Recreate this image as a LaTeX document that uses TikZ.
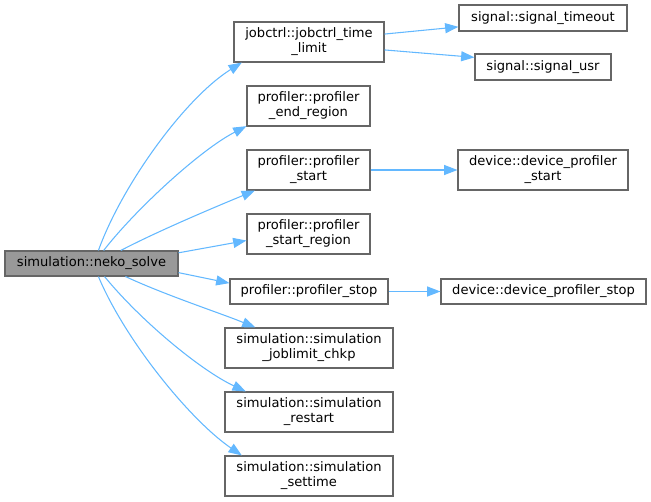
\documentclass[tikz,border=0pt]{standalone}
\usepackage{fontspec}
\setmainfont{DejaVu Sans}
\usepackage{xcolor}
\usetikzlibrary{arrows.meta,positioning,calc}
\definecolor{edgeblue}{HTML}{63B8FF}
\definecolor{boxgray}{HTML}{666666}
\definecolor{mainfill}{HTML}{999999}

\begin{document}
\begin{tikzpicture}[x=0.75pt, y=-0.75pt,
    func/.style={draw=boxgray, line width=0.8pt, fill=white, inner sep=0pt, align=center,
        font=\fontsize{9.8}{11.25}\selectfont},
    mainfunc/.style={func, fill=mainfill},
    call/.style={draw=edgeblue, line width=0.8pt, -{Triangle[length=10pt, width=7.5pt]}}]
    \useasboundingbox (0,0) rectangle (651,502);

    % Caller
    \node [mainfunc, minimum width=173*0.75pt, minimum height=25*0.75pt] (neko) at (91.5,263.5) {simulation::neko\_solve};

    % Callees
    \foreach \n/\x/\y/\w/\h/\txt in {
        jobctrl/309/42/150/40/{jobctrl::jobctrl\_time\\\_limit},
        endreg/308.5/106/123/40/{profiler::profiler\\\_end\_region},
        pstart/308.5/170/123/40/{profiler::profiler\\\_start},
        startreg/308.5/234/123/40/{profiler::profiler\\\_start\_region},
        pstop/309/291.5/158/25/{profiler::profiler\_stop},
        joblimit/309/348/168/40/{simulation::simulation\\\_joblimit\_chkp},
        restart/309/412/168/40/{simulation::simulation\\\_restart},
        settime/309/476/168/40/{simulation::simulation\\\_settime},
        timeout/543/18/168/26/{signal::signal\_timeout},
        usr/543/67/136/26/{signal::signal\_usr},
        dstart/543/170/170/40/{device::device\_profiler\\\_start},
        dstop/543.5/291.5/205/25/{device::device\_profiler\_stop}} {
        \node [func, minimum width=\w*0.75pt, minimum height=\h*0.75pt] (\n) at (\x,\y) {\txt};
    }

    % Calls from neko_solve
    \draw [call] (neko.62.5) .. controls (122,185) and (185,98) .. (jobctrl.197);
    \draw [call] (neko.47.4) .. controls (135,210) and (200,150) .. (endreg.198.3);
    \draw [call] (neko.24.4) .. controls (160,230) and (220,205) .. (pstart.201.2);
    \draw [call] (neko.7.6) -- (startreg.186.5);
    \draw [call] (neko.-6.9) -- (pstop.174.6);
    \draw [call] (neko.-21) .. controls (165,295) and (220,313) .. (joblimit.159);
    \draw [call] (neko.-45) .. controls (140,320) and (200,370) .. (restart.162.6);
    \draw [call] (neko.-62.5) .. controls (125,340) and (190,420) .. (settime.163.4);

    % Second level calls
    \draw [call] (jobctrl.6) -- (timeout.186);
    \draw [call] (jobctrl.-6) -- (usr.172.5);
    \draw [call] (pstart) -- (dstart);
    \draw [call] (pstop) -- (dstop);
\end{tikzpicture}
\end{document}
